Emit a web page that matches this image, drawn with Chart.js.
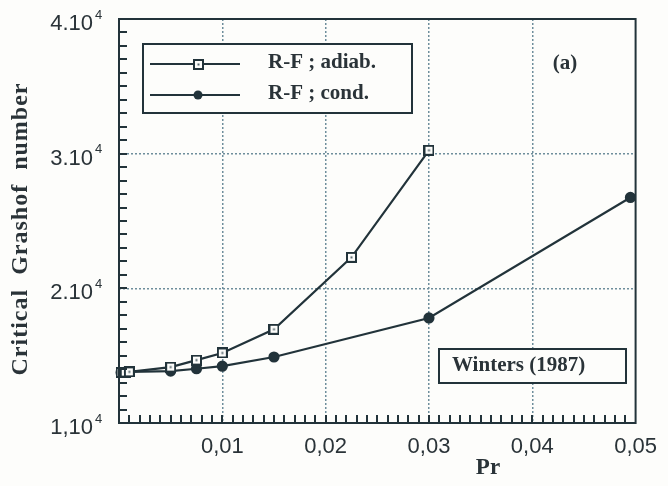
<!DOCTYPE html>
<html>
<head>
<meta charset="utf-8">
<script src="https://cdn.jsdelivr.net/npm/chart.js@4.4.1/dist/chart.umd.min.js"></script>
<style>
  html, body { margin: 0; padding: 0; background: #fdfdfb; }
  canvas { display: block; }
</style>
</head>
<body>
<canvas id="chart" width="668" height="486"></canvas>
<script>
// R-F ; adiab. (open squares)
const PR_ADIAB = [0.0002, 0.0006, 0.001, 0.005, 0.0075, 0.01, 0.015, 0.0225, 0.03];
const GR_ADIAB = [13750, 13780, 13800, 14150, 14670, 15200, 16960, 22300, 30250];

// R-F ; cond. (filled dots)
const PR_COND = [0.0002, 0.0006, 0.001, 0.005, 0.0075, 0.01, 0.015, 0.03, 0.0495];
const GR_COND = [13750, 13780, 13800, 13850, 14030, 14220, 14900, 17800, 26750];

const Y_TICKS = [10000, 20000, 30000, 40000];
const Y_TICK_TEXT = ['1,10', '2.10', '3.10', '4.10'];
const Y_TICK_EXP = '4';

const INK = '#22333a';
const TEXT = '#2a3338';
const GRID = '#6e8e9c';
const SERIF = '"Liberation Serif", "Times New Roman", serif';
const SANS = '"Liberation Sans", Arial, sans-serif';

// open square with a small dot in the middle
function squareMarker() {
  const c = document.createElement('canvas');
  c.width = 11; c.height = 11;
  const g = c.getContext('2d');
  g.fillStyle = '#fdfdfb';
  g.fillRect(1, 1, 9, 9);
  g.strokeStyle = INK;
  g.lineWidth = 2;
  g.strokeRect(1, 1, 9, 9);
  g.fillStyle = '#55666c';
  g.fillRect(4.5, 4.5, 2, 2);
  return c;
}
const SQUARE = squareMarker();

const toXY = (xs, ys) => xs.map((x, i) => ({ x, y: ys[i] }));

const decor = {
  id: 'decor',
  afterDraw(chart) {
    const { ctx, chartArea: a, scales } = chart;
    ctx.save();

    // frame
    ctx.strokeStyle = INK;
    ctx.lineWidth = 2;
    ctx.strokeRect(a.left, a.top, a.right - a.left, a.bottom - a.top);

    // inward minor ticks
    ctx.lineWidth = 2;
    ctx.beginPath();
    for (let v = 11000; v < 40000; v += 1000) {
      const y = Math.round(scales.y.getPixelForValue(v));
      ctx.moveTo(a.left, y); ctx.lineTo(a.left + 8, y);
    }
    for (let k = 1; k < 50; k++) {
      const x = Math.round(scales.x.getPixelForValue(k / 1000));
      ctx.moveTo(x, a.bottom); ctx.lineTo(x, a.bottom - 8);
    }
    ctx.stroke();

    // y tick labels with exponent
    ctx.fillStyle = TEXT;
    Y_TICKS.forEach((v, i) => {
      const y = scales.y.getPixelForValue(v) + 5;
      ctx.font = `22px ${SANS}`;
      ctx.textAlign = 'right';
      ctx.textBaseline = 'middle';
      ctx.fillText(Y_TICK_TEXT[i], 93, y);
      ctx.font = `13px ${SANS}`;
      ctx.textAlign = 'left';
      ctx.fillText(Y_TICK_EXP, 95, y - 9);
    });

    // axis titles
    ctx.font = `bold 24px ${SERIF}`;
    ctx.textAlign = 'center';
    ctx.textBaseline = 'middle';
    ctx.save();
    ctx.translate(21, 229);
    ctx.rotate(-Math.PI / 2);
    ctx.letterSpacing = '1px';
    ctx.fillText('Critical  Grashof  number', 0, 0);
    ctx.restore();
    ctx.font = `bold 23px ${SERIF}`;
    ctx.fillText('Pr', 488, 468);

    // legend box
    ctx.fillStyle = '#fdfdfb';
    ctx.fillRect(143, 44, 269, 69);
    ctx.strokeStyle = INK;
    ctx.lineWidth = 2;
    ctx.strokeRect(143, 44, 269, 69);
    ctx.beginPath();
    ctx.moveTo(150, 64); ctx.lineTo(240, 64);
    ctx.moveTo(150, 95); ctx.lineTo(240, 95);
    ctx.stroke();
    ctx.drawImage(SQUARE, 193, 59);
    ctx.fillStyle = INK;
    ctx.beginPath(); ctx.arc(198, 95, 4.5, 0, Math.PI * 2); ctx.fill();
    ctx.fillStyle = TEXT;
    ctx.font = `bold 21px ${SERIF}`;
    ctx.textAlign = 'left';
    ctx.fillText('R-F ; adiab.', 268, 63);
    ctx.fillText('R-F ; cond.', 268, 94);

    // (a)
    ctx.textAlign = 'center';
    ctx.fillText('(a)', 565, 64);

    // Winters box
    ctx.fillStyle = '#fdfdfb';
    ctx.fillRect(439, 349, 187, 34);
    ctx.strokeStyle = INK;
    ctx.strokeRect(439, 349, 187, 34);
    ctx.fillStyle = TEXT;
    ctx.textAlign = 'left';
    ctx.fillText('Winters (1987)', 452, 366);

    ctx.restore();
  },
};

new Chart(document.getElementById('chart'), {
  type: 'scatter',
  data: {
    datasets: [
      {
        label: 'R-F ; adiab.',
        data: toXY(PR_ADIAB, GR_ADIAB),
        showLine: true,
        borderColor: INK,
        borderWidth: 2.2,
        pointStyle: SQUARE,
        clip: false,
      },
      {
        label: 'R-F ; cond.',
        data: toXY(PR_COND, GR_COND),
        showLine: true,
        borderColor: INK,
        backgroundColor: INK,
        borderWidth: 2.2,
        pointStyle: 'circle',
        pointRadius: 4.5,
        clip: false,
      },
    ],
  },
  options: {
    responsive: false,
    animation: false,
    devicePixelRatio: 1,
    layout: { padding: { left: 0, right: 28, top: 19, bottom: 0 } },
    plugins: { legend: { display: false }, tooltip: { enabled: false } },
    scales: {
      x: {
        type: 'linear',
        min: 0,
        max: 0.05,
        afterFit: s => { s.height = 63; },
        ticks: {
          stepSize: 0.01,
          autoSkip: false,
          maxRotation: 0,
          padding: 11,
          color: TEXT,
          font: { family: SANS, size: 22 },
          callback: v => v === 0 ? '' : v.toFixed(2).replace('.', ','),
        },
        grid: {
          drawTicks: false,
          lineWidth: 1.5,
          color: c => (c.tick && c.tick.value > 0 && c.tick.value < 0.05) ? GRID : 'transparent',
        },
        border: { display: false, dash: [2, 2] },
      },
      y: {
        min: 10000,
        max: 40000,
        afterFit: s => { s.width = 119; },
        ticks: { stepSize: 10000, display: false },
        grid: {
          drawTicks: false,
          lineWidth: 1.5,
          color: c => (c.tick && c.tick.value > 10000 && c.tick.value < 40000) ? GRID : 'transparent',
        },
        border: { display: false, dash: [2, 2] },
      },
    },
  },
  plugins: [decor],
});
</script>
</body>
</html>
